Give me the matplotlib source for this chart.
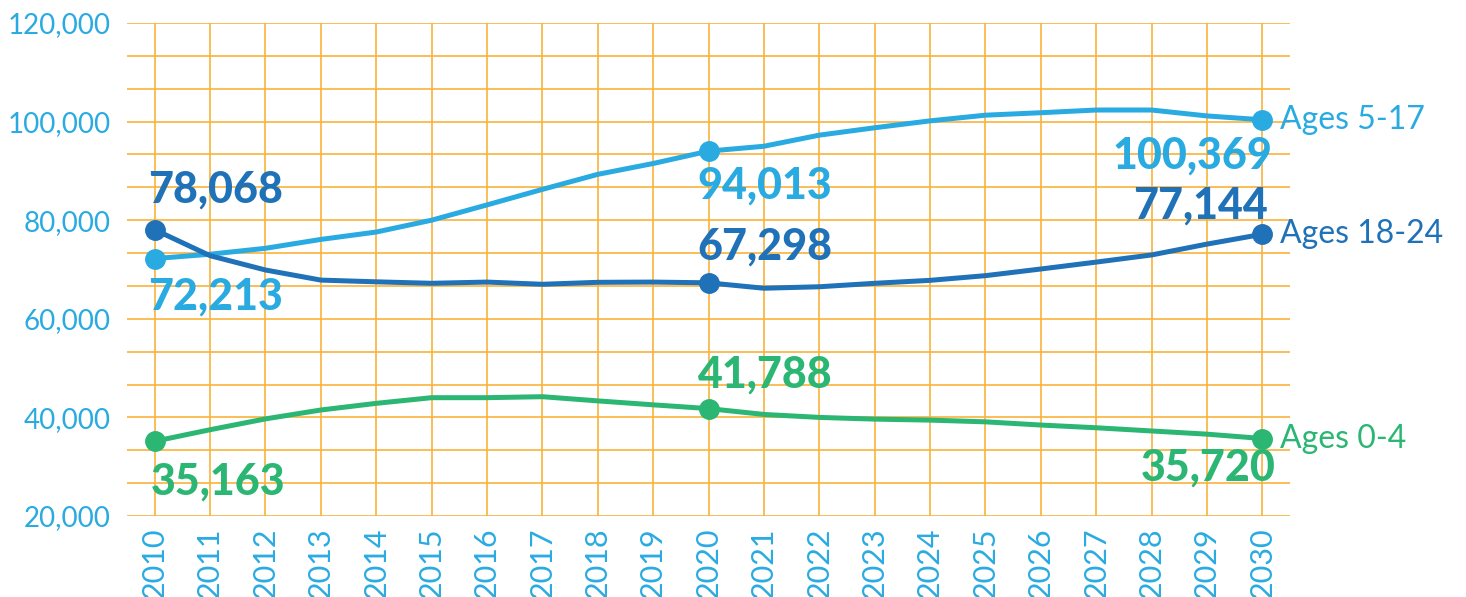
import matplotlib.pyplot as plt
import numpy as np

years = list(range(2010, 2031))
ages_5_17 = [72213, 73100, 74300, 76100, 77600, 80000, 83100, 86250, 89300, 91500, 94013,
             95000, 97250, 98750, 100150, 101300, 101800, 102350, 102350, 101150, 100369]
ages_18_24 = [78068, 72800, 69900, 67850, 67500, 67200, 67450, 67000, 67400, 67450, 67298,
              66200, 66500, 67200, 67800, 68750, 70100, 71500, 72950, 75150, 77144]
ages_0_4 = [35163, 37500, 39700, 41500, 42850, 44000, 44000, 44200, 43350, 42550, 41788,
            40600, 40000, 39650, 39450, 39100, 38450, 37900, 37250, 36600, 35720]
series_names = ["Ages 5-17", "Ages 18-24", "Ages 0-4"]
labelled_years = [2010, 2020, 2030]

LIGHT = '#29ABE2'
DARK = '#1F71B8'
GREEN = '#2BB673'
GRID = '#F9B13A'
plt.rcParams['font.family'] = ['Lato', 'DejaVu Sans']

fig = plt.figure(figsize=(14.66, 5.97), dpi=100)
ax = fig.add_axes([127 / 1466, 1 - 516 / 597, (1290 - 127) / 1466, (516 - 23) / 597])

# orange grid: every year, and three lines per 20,000
for yr in years:
    ax.axvline(yr, color=GRID, linewidth=1.2, zorder=0)
for yv in np.linspace(20000, 120000, 16):
    ax.axhline(yv, color=GRID, linewidth=1.2, zorder=0)

# (series, colour, pixel offsets of the value labels at 2010/2020/2030 and their alignment)
styles = [
    (ages_5_17, LIGHT, [(-7, -38, 'left'), (-11, -34, 'left'), (10, -36, 'right')]),
    (ages_18_24, DARK, [(-7, 40, 'left'), (-11, 36, 'left'), (6, 29, 'right')]),
    (ages_0_4, GREEN, [(-4, -40, 'left'), (-11, 34, 'left'), (13, -29, 'right')]),
]

for name, (vals, col, offs) in zip(series_names, styles):
    ax.plot(years, vals, color=col, linewidth=3.6, solid_capstyle='round', zorder=3)
    for yr, (dx, dy, ha) in zip(labelled_years, offs):
        v = vals[years.index(yr)]
        ax.plot(yr, v, 'o', color=col, markersize=14, zorder=4)
        ax.annotate(f"{v:,}", (yr, v), xytext=(dx, dy), textcoords='offset pixels',
                    ha=ha, va='center', fontsize=31, fontweight='black', color=col)
    ax.annotate(name, (years[-1], vals[-1]), xytext=(18, 0), textcoords='offset pixels',
                ha='left', va='center', fontsize=23, color=col, annotation_clip=False)

ax.set_xlim(2009.5, 2030.5)
ax.set_ylim(20000, 120000)
ax.set_xticks(years)
ax.set_xticklabels([str(y) for y in years], rotation=90)
ax.set_yticks(range(20000, 120001, 20000))
ax.set_yticklabels([f"{v:,}" for v in range(20000, 120001, 20000)])
ax.tick_params(axis='both', length=0, labelsize=20, labelcolor=LIGHT)
ax.tick_params(axis='y', pad=12)
ax.tick_params(axis='x', pad=8, labelsize=22)
for s in ax.spines.values():
    s.set_visible(False)

fig.savefig('out.png', dpi=100)
